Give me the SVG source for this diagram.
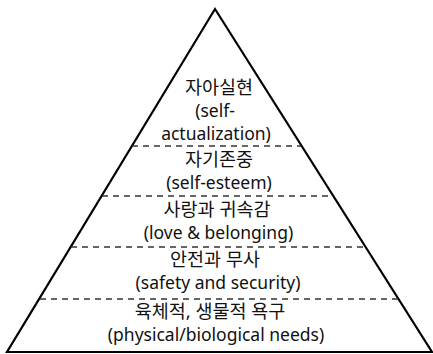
<svg xmlns="http://www.w3.org/2000/svg" width="433" height="354" viewBox="0 0 433 354">
<style>
.bg{fill:#ffffff}
.tri{fill:#ffffff;stroke:#000000;stroke-width:2.2;stroke-linejoin:miter}
.div{stroke:#333333;stroke-width:1.5;stroke-dasharray:6 5;fill:none}
.t{font-family:"Noto Sans","Noto Sans CJK KR",sans-serif;font-size:17.5px;fill:#111111;text-anchor:middle}
.k{font-size:18.5px}
</style>
<rect class="bg" x="0" y="0" width="433" height="354"/>
<polygon id="pyramid" class="tri" points="215,9 432,352 7,352"/>
<g id="dividers">
<line class="div" x1="132" y1="146" x2="301" y2="146"/>
<line class="div" x1="102" y1="196" x2="333" y2="196"/>
<line class="div" x1="71" y1="247" x2="365" y2="247"/>
<line class="div" x1="40" y1="299" x2="398" y2="299"/>
</g>
<g id="level-self-actualization">
<text class="t k" x="219" y="94">자아실현</text>
<text class="t" x="215" y="117">(self-</text>
<text class="t" x="216" y="140">actualization)</text>
</g>
<g id="level-esteem">
<text class="t k" x="219" y="166">자기존중</text>
<text class="t" x="219" y="189">(self-esteem)</text>
</g>
<g id="level-belonging">
<text class="t k" x="217" y="216">사랑과 귀속감</text>
<text class="t" x="218.5" y="239">(love &amp; belonging)</text>
</g>
<g id="level-safety">
<text class="t k" x="215" y="266">안전과 무사</text>
<text class="t" x="218" y="289">(safety and security)</text>
</g>
<g id="level-physical">
<text class="t k" x="210" y="318">육체적, 생물적 욕구</text>
<text class="t" x="216" y="341">(physical/biological needs)</text>
</g>
</svg>
